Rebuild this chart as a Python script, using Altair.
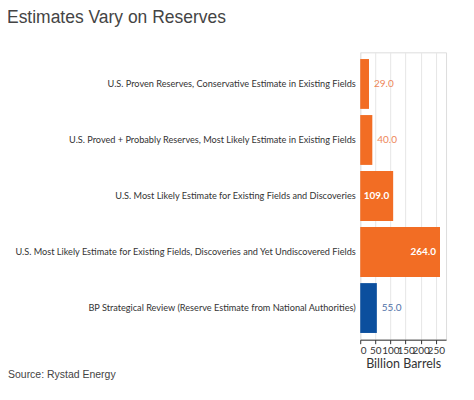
import altair as alt
import pandas as pd

categories = [
    "U.S. Proven Reserves, Conservative Estimate in Existing Fields",
    "U.S. Proved + Probably Reserves, Most Likely Estimate in Existing Fields",
    "U.S. Most Likely Estimate for Existing Fields and Discoveries",
    "U.S. Most Likely Estimate for Existing Fields, Discoveries and Yet Undiscovered Fields",
    "BP Strategical Review (Reserve Estimate from National Authorities)",
]
values = [29.0, 40.0, 109.0, 264.0, 55.0]
bar_colors = ["#F26D24", "#F26D24", "#F26D24", "#F26D24", "#0B4F9E"]
label_colors = ["#EE8658", "#EE8658", "#EE8658", "#EE8658", "#4F72A8"]
x_ticks = [0, 50, 100, 150, 200, 250]

df = pd.DataFrame({
    "cat": categories,
    "value": values,
    "bar_color": bar_colors,
    "label_color": label_colors,
})
df["label"] = df["value"].map(lambda v: f"{v:.1f}")

W, H = 86, 288
FONT = "Lato"

y_enc = alt.Y(
    "cat:N",
    sort=categories,
    title=None,
    scale=alt.Scale(paddingInner=0.11, paddingOuter=0.12),
    axis=alt.Axis(
        labelFont=FONT, labelFontSize=9.2, labelColor="#333333", labelLimit=420,
        labelPadding=5, ticks=False, domain=False, grid=False,
    ),
)
x_enc = alt.X(
    "value:Q",
    title="Billion Barrels",
    scale=alt.Scale(domain=[0, 284], nice=False),
    axis=alt.Axis(
        values=x_ticks, labelOverlap=False, labelFont=FONT, labelFontSize=10,
        labelColor="#333333", labelPadding=2, tickSize=4, tickColor="#333333",
        domainColor="#333333", grid=True, gridColor="#E6E6E6",
        titleFont=FONT, titleFontSize=12.5, titleFontWeight="normal",
        titleColor="#333333", titlePadding=2,
    ),
)

base = alt.Chart(df)

bars = base.mark_bar().encode(
    x=x_enc, y=y_enc,
    color=alt.Color("bar_color:N", scale=None, legend=None),
)

outside = base.transform_filter("datum.value < 100").mark_text(
    align="left", baseline="middle", dx=5, font=FONT, fontSize=10
).encode(
    x=x_enc, y=y_enc,
    text="label:N",
    color=alt.Color("label_color:N", scale=None, legend=None),
)

inside = base.transform_filter("datum.value >= 100").mark_text(
    align="right", baseline="middle", dx=-4, font=FONT, fontSize=10,
    fontWeight="bold", color="white"
).encode(
    x=x_enc, y=y_enc, text="label:N",
)

title_df = pd.DataFrame({"t": ["Estimates Vary on Reserves"]})
title = alt.Chart(title_df).mark_text(
    align="left", baseline="alphabetic", font="Liberation Sans",
    fontSize=17.5, color="#444444"
).encode(text="t:N", x=alt.value(-354), y=alt.value(-29))

source_df = pd.DataFrame({"t": ["Source: Rystad Energy"]})
source = alt.Chart(source_df).mark_text(
    align="left", baseline="alphabetic", font="Liberation Sans",
    fontSize=10.5, color="#444444"
).encode(text="t:N", x=alt.value(-353), y=alt.value(326))

chart = alt.layer(bars, outside, inside, title, source).properties(
    width=W, height=H,
    autosize=alt.AutoSizeParams(type="none"),
    padding={"left": 353, "top": 44, "right": 20, "bottom": 45},
).configure_view(stroke=None).configure(background="white")

chart.save("out.html", embed_options={"renderer": "svg", "actions": False})
